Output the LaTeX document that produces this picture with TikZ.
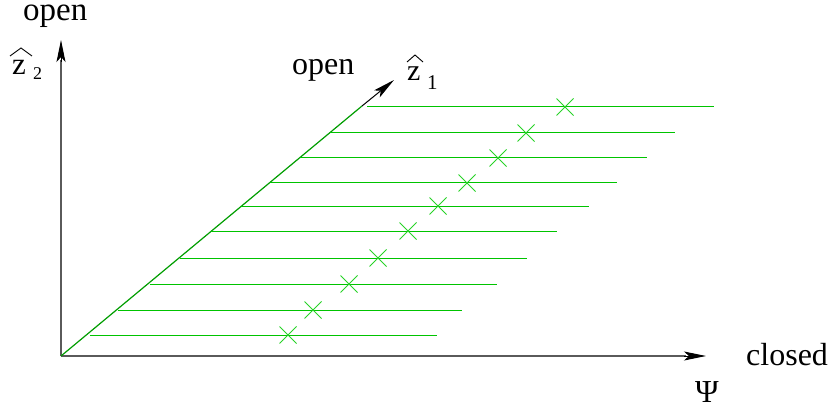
\documentclass[tikz,border=0pt]{standalone}
\usepackage{fontspec}
\setmainfont{Liberation Serif}
\usetikzlibrary{arrows.meta,calc}
\definecolor{grn}{RGB}{0,196,0}
\definecolor{grnx}{RGB}{40,210,40}
\definecolor{axisgray}{RGB}{90,90,90}
\tikzset{
  axisline/.style={draw=axisgray, line width=1.3pt},
  tip/.style={-{Stealth[length=22pt,width=9pt,inset=5pt,fill=black]}},
  hline/.style={draw=grn, line width=1pt},
  xmark/.style={draw=grnx, line width=0.9pt},
  hatline/.style={draw=black, line width=0.9pt},
  lbl/.style={inner sep=0pt, anchor=base west, font=\fontsize{32}{34}\selectfont},
  sublbl/.style={inner sep=0pt, anchor=base west, font=\fontsize{18}{20}\selectfont}
}
\newcommand{\xm}[1]{\draw[xmark] ($(#1)+(-8.5,-8.5)$) -- ($(#1)+(8.5,8.5)$) ($(#1)+(-8.5,8.5)$) -- ($(#1)+(8.5,-8.5)$);}
\begin{document}
\begin{tikzpicture}[x=1pt,y=-1pt]
\useasboundingbox (0,0) rectangle (833,409);
\coordinate (O) at (61,356);
\coordinate (Ytip) at (61,40);
\coordinate (Xtip) at (706,356);
\coordinate (Dg) at (362,106);
\coordinate (Dtip) at (394,80);
% axes
\draw[axisline] (O) -- ($(Ytip)+(0,20)$);
\draw[axisline] (O) -- ($(Xtip)+(-20,0)$);
\draw[tip, line width=1pt] ($(Ytip)+(0,22)$) -- (Ytip);
\draw[tip, line width=1pt] ($(Xtip)+(-22,0)$) -- (Xtip);
% diagonal
\draw[draw=grn!80!black, line width=1.2pt] (O) -- (Dg);
\draw[tip, line width=1pt] (Dg) -- (Dtip);
% horizontal lines and crosses
\foreach \y/\a/\b/\c in {335/90/437/288, 310/118/462/313, 284/150/497/349, 258/180/527/378, 231/211/557/408, 206/241/589/438, 183/270/617/467, 158/300/647/498, 133/330/675/526, 107/367/714/565}{
  \coordinate (L\y) at (\a,\y);
  \coordinate (R\y) at (\b,\y);
  \coordinate (X\y) at (\c,\y);
  \draw[hline] (L\y) -- (R\y);
  \xm{X\y}
}
% labels
\node[lbl, font=\fontsize{33}{34}\selectfont, text height=15pt] (open2) at (23,21) {open};
\node[lbl, font=\fontsize{31}{32}\selectfont] (z2) at (12,75) {z};
\draw[hatline] (10,56) -- (21,48) -- (32,56);
\node[sublbl] (s2) at (33,80) {2};
\node[lbl] (open1) at (292,75) {open};
\node[lbl, font=\fontsize{30}{32}\selectfont] (z1) at (407,81) {z};
\draw[hatline] (407,62) -- (415,55) -- (423,62);
\node[sublbl, font=\fontsize{21}{22}\selectfont] (s1) at (427,90) {1};
\node[lbl] (closed) at (746,365) {closed};
\node[lbl] (psi) at (695,402) {Ψ};
\end{tikzpicture}
\end{document}
